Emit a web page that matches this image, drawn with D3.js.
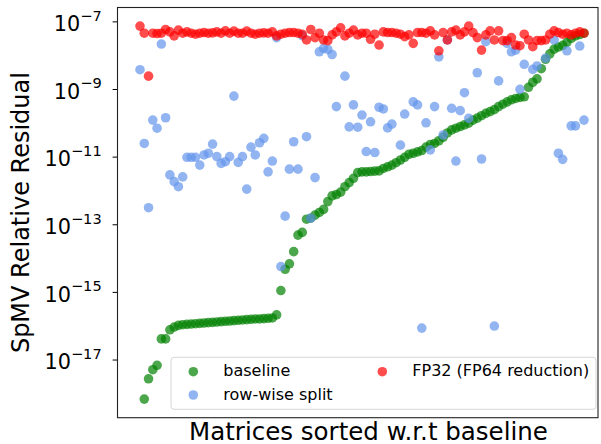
<html>
    <head>
        <script src="https://d3js.org/d3.v7.min.js"></script>
        <style>
            body { margin: 0; background: white; }
            text { font-family: "DejaVu Sans", sans-serif; }
        </style>
    </head>
    <body>
        <div id="chartDiv1"></div>
    </body>

<script>

// log10 of the SpMV relative residual, one entry per matrix (sorted by baseline)
const baseline = [null, -18.17, -17.57, -17.30, -17.17, -16.39, -16.39, -16.12, -16.04,
  -15.99, -15.97, -15.96, -15.95, -15.94, -15.93, -15.92, -15.91, -15.90, -15.89, -15.88,
  -15.87, -15.86, -15.85, -15.84, -15.83, -15.82, -15.81, -15.80, -15.80, -15.79, -15.78, -15.77,
  -15.68, -14.96, -14.33, -14.17, -13.81, -13.32, -13.24, -12.85, -12.82, -12.73,
  -12.65, -12.56, -12.33, -12.16, -12.12, -12.05, -11.89, -11.77, -11.64, -11.47,
  -11.45, -11.45, -11.44, -11.43, -11.42, -11.35, -11.30, -11.25, -11.18, -11.10,
  -11.02, -10.93, -10.90, -10.86, -10.82, -10.72, -10.64, -10.61, -10.53, -10.43,
  -10.30, -10.21, -10.16, -10.11, -10.06, -10.01, -9.92, -9.86, -9.79, -9.72,
  -9.67, -9.61, -9.52, -9.45, -9.38, -9.32, -9.28, -9.25, -9.23, -8.95,
  -8.80, -8.70, -8.40, -8.12, -7.96, -7.82, -7.76, -7.71, -7.62, -7.50,
  -7.43, -7.39, -7.35];

const rowWiseSplit = [-8.43, -10.61, -12.51, -9.92, -10.16, -7.67, -9.85, -11.54, -11.74, -11.89,
  -11.60, -11.02, -11.02, -11.02, -11.25, -10.95, -10.90, -10.63, -11.00, -11.20,
  -11.15, -11.00, -9.21, -11.17, -11.00, -11.96, -10.72, -10.95, -10.59, -10.46,
  -11.45, -11.13, -7.48, -14.25, -12.76, -11.37, -10.56, -11.37, -7.42, -10.41,
  -12.82, -11.62, -7.90, -7.80, -7.83, -7.98, -9.52, null, -8.62, -10.12,
  -9.47, -10.13, -9.77, -10.85, -9.97, -10.88, -9.54, -9.59, -10.15, -10.04,
  null, -10.66, -9.74, null, -9.38, -9.47, -16.07, -10.00, -10.80, -9.52,
  -8.05, -10.36, -7.55, -9.57, -11.13, -9.64, -9.11, -9.87, null, -8.52,
  -11.07, -7.60, null, -16.01, -8.76, null, -7.65, -7.90, -7.85, -9.01,
  -8.27, null, -8.42, -8.32, null, -8.09, null, -7.55, -10.90, -11.08,
  -7.87, -10.09, -10.09, -7.73, -9.92];

const fp32 = [-7.14, -7.35, -8.62, -7.35, -7.36, -7.35, -7.24, -7.31, -7.43, -7.26,
  -7.35, -7.31, -7.35, -7.38, -7.35, -7.33, -7.35, -7.34, -7.31, -7.35,
  -7.28, -7.35, -7.29, -7.35, -7.35, -7.29, -7.35, -7.38, -7.35, -7.34,
  -7.35, -7.31, -7.43, -7.38, -7.35, -7.33, -7.33, -7.35, -7.38, -7.55,
  -7.24, -7.48, -7.35, -7.55, -7.57, -7.40, -7.31, -7.19, -7.43, -7.35,
  -7.26, -7.40, -7.35, -7.35, -7.53, -7.38, -7.70, -7.31, -7.33, -7.33,
  -7.35, -7.38, -7.45, -7.40, -7.65, -7.33, -7.33, -7.35, -7.28, -7.40,
  -7.87, -7.33, -7.55, -7.31, -7.26, -7.40, -7.31, -7.14, -7.33, -7.48,
  -7.85, -7.40, -7.28, -7.55, -7.28, -7.57, -7.57, -7.48, -7.70, -7.72,
  -7.38, -7.55, -7.75, -7.57, -7.57, -7.55, -7.38, -7.28, -7.33, -7.38,
  -7.35, -7.40, -7.35, -7.31, -7.35];

const yTickExps = [-7, -9, -11, -13, -15, -17];

const series = [
  { name: "baseline", values: baseline, color: "rgba(0,128,0,0.7)" },
  { name: "row-wise split", values: rowWiseSplit, color: "rgba(100,149,237,0.7)" },
  { name: "FP32 (FP64 reduction)", values: fp32, color: "rgba(255,0,0,0.7)" }
];

const W = 601, H = 444;
const margin = { top: 7.5, right: 3, bottom: 26.3, left: 117.5 },
  width = W - margin.left - margin.right,
  height = H - margin.top - margin.bottom;

const svg = d3.select("#chartDiv1")
  .append("svg")
  .attr("width", W)
  .attr("height", H)
  .append("g")
  .attr("transform", "translate(" + margin.left + "," + margin.top + ")");

const n = fp32.length;
const x = d3.scaleLinear()
  .domain([0, n - 1])
  .range([22.5, 466.5]);

const y = d3.scaleLog()
  .domain([Math.pow(10, -18.72), Math.pow(10, -6.59)])
  .range([height, 0]);

// points
series.forEach(s => {
  const pts = s.values.map((v, i) => ({ i: i, v: v })).filter(d => d.v !== null);
  svg.append("g")
    .selectAll("circle")
    .data(pts)
    .enter()
    .append("circle")
    .attr("cx", d => x(d.i))
    .attr("cy", d => y(Math.pow(10, d.v)))
    .attr("r", 4.8)
    .attr("fill", s.color);
});

// y axis ticks, labels drawn by hand for the superscripts
const yAxis = svg.append("g")
  .call(d3.axisLeft(y)
    .tickValues(yTickExps.map(e => Math.pow(10, e)))
    .tickSize(4.9)
    .tickFormat(""));
yAxis.select(".domain").remove();
yAxis.selectAll("line").attr("stroke", "#000").attr("stroke-width", 1);

yTickExps.forEach(e => {
  const t = svg.append("text")
    .attr("x", -15.8)
    .attr("y", y(Math.pow(10, e)) + 9.7)
    .attr("text-anchor", "end")
    .style("font-size", "20.8px")
    .attr("fill", "#000");
  t.append("tspan").text("10");
  t.append("tspan")
    .attr("dy", -10.4)
    .style("font-size", "14.6px")
    .text("\u2212" + Math.abs(e));
});

// frame
svg.append("rect")
  .attr("x", 0)
  .attr("y", 0)
  .attr("width", width)
  .attr("height", height)
  .attr("fill", "none")
  .attr("stroke", "#222")
  .attr("stroke-width", 1.1);

// axis titles
svg.append("text")
  .attr("transform", "translate(" + (-88.5) + "," + (height / 2) + ") rotate(-90)")
  .attr("text-anchor", "middle")
  .style("font-size", "24px")
  .text("SpMV Relative Residual");

svg.append("text")
  .attr("x", 368.5 - margin.left)
  .attr("y", 440.3 - margin.top)
  .attr("text-anchor", "middle")
  .style("font-size", "24.5px")
  .text("Matrices sorted w.r.t baseline");

// legend (2 columns)
const lg = svg.append("g")
  .attr("transform", "translate(" + (171 - margin.left) + "," + (357.3 - margin.top) + ")");
lg.append("rect")
  .attr("width", 425)
  .attr("height", 52)
  .attr("rx", 3)
  .attr("fill", "rgba(255,255,255,0.8)")
  .attr("stroke", "#d6d6d6")
  .attr("stroke-width", 1);

const legendPos = [[22.3, 14.4], [22.3, 37.7], [211.3, 14.4]];
series.forEach((s, k) => {
  const p = legendPos[k];
  lg.append("circle")
    .attr("cx", p[0])
    .attr("cy", p[1])
    .attr("r", 4.8)
    .attr("fill", s.color);
  lg.append("text")
    .attr("x", p[0] + 30)
    .attr("y", p[1] + 4.6)
    .style("font-size", "16px")
    .text(s.name);
});

</script>

</html>
